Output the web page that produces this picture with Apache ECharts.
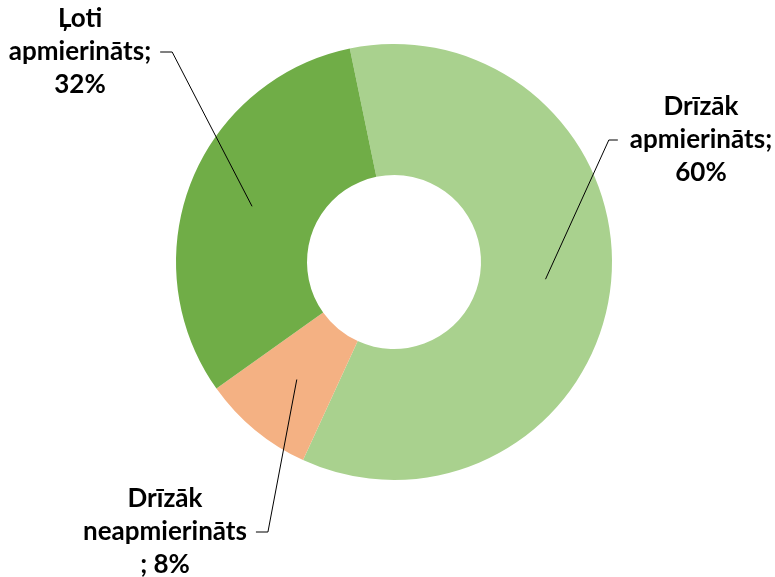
<!DOCTYPE html>
<html>
<head>
<meta charset="utf-8">
<script src="https://cdn.jsdelivr.net/npm/echarts@6/dist/echarts.min.js"></script>
<style>
  html, body { margin: 0; padding: 0; background: #fff; }
  #main { width: 775px; height: 577px; }
</style>
</head>
<body>
<div id="main"></div>
<script>
  // data
  const categories = ['Drīzāk apmierināts', 'Drīzāk neapmierināts', 'Ļoti apmierināts']
  const values = [60.1, 8.3, 31.6]
  const labelHeads = ['Drīzāk\napmierināts;\n', 'Drīzāk\nneapmierināts\n; ', 'Ļoti\napmierināts;\n']
  const colors = ['#A9D18E', '#F4B183', '#70AD47']

  // layout
  const cx = 394
  const cy = 262
  const rIn = 87
  const rOut = 218
  const startAngle = 101.7
  const labelPos = [[701, 140], [165, 532], [80, 52]]
  const labelSide = [-1, 1, 1] // -1: line comes in on the left of the label

  const total = values.reduce((a, b) => a + b, 0)

  function midAngle (i) {
    let before = 0
    for (let k = 0; k < i; k++) before += values[k]
    const deg = startAngle - (before + values[i] / 2) / total * 360
    return deg * Math.PI / 180
  }

  const pieBase = {
    type: 'pie',
    center: [cx, cy],
    radius: [rIn, rOut],
    startAngle: startAngle,
    clockwise: true,
    avoidLabelOverlap: false,
    emphasis: { disabled: true },
    silent: true
  }

  let chart = echarts.init(document.getElementById('main'))
  chart.setOption({
    animation: false,
    series: [
      // the slices
      Object.assign({}, pieBase, {
        z: 2,
        label: { show: false },
        labelLine: { show: false },
        itemStyle: { borderWidth: 0 },
        data: categories.map((name, i) => ({
          name: name,
          value: values[i],
          itemStyle: { color: colors[i] }
        }))
      }),
      // same pie, see-through, only for labels so leader lines sit on top of slices
      Object.assign({}, pieBase, {
        z: 5,
        itemStyle: { color: 'rgba(0,0,0,0)', borderWidth: 0 },
        label: {
          show: true,
          position: 'outside',
          color: '#000',
          fontFamily: 'Lato',
          fontWeight: 'bold',
          fontSize: 26,
          lineHeight: 33,
          align: 'center',
          formatter: (p) => labelHeads[p.dataIndex] + Math.round(p.percent) + '%'
        },
        labelLine: {
          show: true,
          lineStyle: { color: '#000', width: 1 }
        },
        labelLayout: (params) => {
          const i = params.dataIndex
          const x = labelPos[i][0]
          const y = labelPos[i][1]
          const w = params.labelRect.width
          const a = midAngle(i)
          const rMid = (rIn + rOut) / 2
          const ax = cx + rMid * Math.cos(a)
          const ay = cy - rMid * Math.sin(a)
          let ex, bx
          if (labelSide[i] > 0) {
            ex = x + w / 2 + 9
            bx = ex + 12
          } else {
            ex = x - w / 2 - 12
            bx = ex - 9
          }
          return {
            x: x,
            y: y,
            align: 'center',
            verticalAlign: 'middle',
            labelLinePoints: [[ax, ay], [bx, y], [ex, y]]
          }
        },
        data: categories.map((name, i) => ({
          name: name,
          value: values[i]
        }))
      })
    ]
  })
</script>
</body>
</html>
